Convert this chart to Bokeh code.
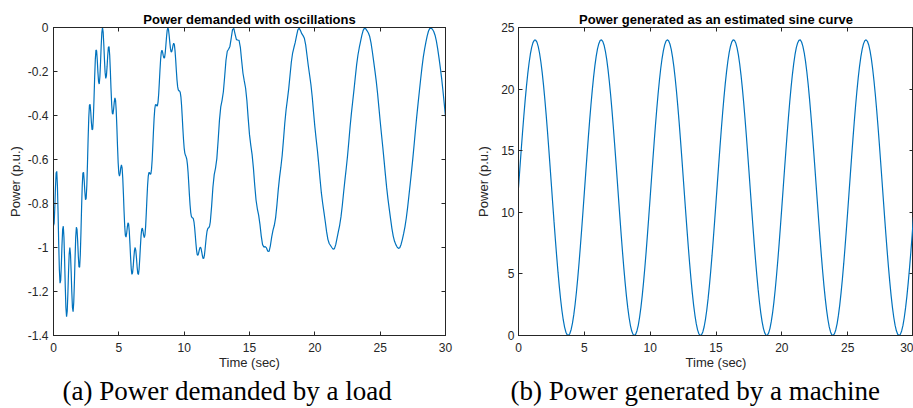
from bokeh.plotting import figure
from bokeh.models import Range1d, LinearAxis, FixedTicker, Title, CustomLabelingPolicy
from bokeh.layouts import row
from bokeh.embed import file_html
from bokeh.resources import INLINE

# ---------------- data ----------------
# sample times (s) of panel (a), 0 .. 12 s
time_fine = [
    0.0, 0.05, 0.1, 0.15, 0.2, 0.25, 0.3, 0.35, 0.4, 0.45,
    0.5, 0.55, 0.6, 0.65, 0.7, 0.75, 0.8, 0.85, 0.9, 0.95,
    1.0, 1.05, 1.1, 1.15, 1.2, 1.25, 1.3, 1.35, 1.4, 1.45,
    1.5, 1.55, 1.6, 1.65, 1.7, 1.75, 1.8, 1.85, 1.9, 1.95,
    2.0, 2.05, 2.1, 2.15, 2.2, 2.25, 2.3, 2.35, 2.4, 2.45,
    2.5, 2.55, 2.6, 2.65, 2.7, 2.75, 2.8, 2.85, 2.9, 2.95,
    3.0, 3.05, 3.1, 3.15, 3.2, 3.25, 3.3, 3.35, 3.4, 3.45,
    3.5, 3.55, 3.6, 3.65, 3.7, 3.75, 3.8, 3.85, 3.9, 3.95,
    4.0, 4.05, 4.1, 4.15, 4.2, 4.25, 4.3, 4.35, 4.4, 4.45,
    4.5, 4.55, 4.6, 4.65, 4.7, 4.75, 4.8, 4.85, 4.9, 4.95,
    5.0, 5.05, 5.1, 5.15, 5.2, 5.25, 5.3, 5.35, 5.4, 5.45,
    5.5, 5.55, 5.6, 5.65, 5.7, 5.75, 5.8, 5.85, 5.9, 5.95,
    6.0, 6.05, 6.1, 6.15, 6.2, 6.25, 6.3, 6.35, 6.4, 6.45,
    6.5, 6.55, 6.6, 6.65, 6.7, 6.75, 6.8, 6.85, 6.9, 6.95,
    7.0, 7.05, 7.1, 7.15, 7.2, 7.25, 7.3, 7.35, 7.4, 7.45,
    7.5, 7.55, 7.6, 7.65, 7.7, 7.75, 7.8, 7.85, 7.9, 7.95,
    8.0, 8.05, 8.1, 8.15, 8.2, 8.25, 8.3, 8.35, 8.4, 8.45,
    8.5, 8.55, 8.6, 8.65, 8.7, 8.75, 8.8, 8.85, 8.9, 8.95,
    9.0, 9.05, 9.1, 9.15, 9.2, 9.25, 9.3, 9.35, 9.4, 9.45,
    9.5, 9.55, 9.6, 9.65, 9.7, 9.75, 9.8, 9.85, 9.9, 9.95,
    10.0, 10.05, 10.1, 10.15, 10.2, 10.25, 10.3, 10.35, 10.4, 10.45,
    10.5, 10.55, 10.6, 10.65, 10.7, 10.75, 10.8, 10.85, 10.9, 10.95,
    11.0, 11.05, 11.1, 11.15, 11.2, 11.25, 11.3, 11.35, 11.4, 11.45,
    11.5, 11.55, 11.6, 11.65, 11.7, 11.75, 11.8, 11.85, 11.9, 11.95,
    12.0,
]

# sample times (s), 0 .. 30 s every 0.1 s
time_coarse = [
    0.0, 0.1, 0.2, 0.3, 0.4, 0.5, 0.6, 0.7, 0.8, 0.9,
    1.0, 1.1, 1.2, 1.3, 1.4, 1.5, 1.6, 1.7, 1.8, 1.9,
    2.0, 2.1, 2.2, 2.3, 2.4, 2.5, 2.6, 2.7, 2.8, 2.9,
    3.0, 3.1, 3.2, 3.3, 3.4, 3.5, 3.6, 3.7, 3.8, 3.9,
    4.0, 4.1, 4.2, 4.3, 4.4, 4.5, 4.6, 4.7, 4.8, 4.9,
    5.0, 5.1, 5.2, 5.3, 5.4, 5.5, 5.6, 5.7, 5.8, 5.9,
    6.0, 6.1, 6.2, 6.3, 6.4, 6.5, 6.6, 6.7, 6.8, 6.9,
    7.0, 7.1, 7.2, 7.3, 7.4, 7.5, 7.6, 7.7, 7.8, 7.9,
    8.0, 8.1, 8.2, 8.3, 8.4, 8.5, 8.6, 8.7, 8.8, 8.9,
    9.0, 9.1, 9.2, 9.3, 9.4, 9.5, 9.6, 9.7, 9.8, 9.9,
    10.0, 10.1, 10.2, 10.3, 10.4, 10.5, 10.6, 10.7, 10.8, 10.9,
    11.0, 11.1, 11.2, 11.3, 11.4, 11.5, 11.6, 11.7, 11.8, 11.9,
    12.0, 12.1, 12.2, 12.3, 12.4, 12.5, 12.6, 12.7, 12.8, 12.9,
    13.0, 13.1, 13.2, 13.3, 13.4, 13.5, 13.6, 13.7, 13.8, 13.9,
    14.0, 14.1, 14.2, 14.3, 14.4, 14.5, 14.6, 14.7, 14.8, 14.9,
    15.0, 15.1, 15.2, 15.3, 15.4, 15.5, 15.6, 15.7, 15.8, 15.9,
    16.0, 16.1, 16.2, 16.3, 16.4, 16.5, 16.6, 16.7, 16.8, 16.9,
    17.0, 17.1, 17.2, 17.3, 17.4, 17.5, 17.6, 17.7, 17.8, 17.9,
    18.0, 18.1, 18.2, 18.3, 18.4, 18.5, 18.6, 18.7, 18.8, 18.9,
    19.0, 19.1, 19.2, 19.3, 19.4, 19.5, 19.6, 19.7, 19.8, 19.9,
    20.0, 20.1, 20.2, 20.3, 20.4, 20.5, 20.6, 20.7, 20.8, 20.9,
    21.0, 21.1, 21.2, 21.3, 21.4, 21.5, 21.6, 21.7, 21.8, 21.9,
    22.0, 22.1, 22.2, 22.3, 22.4, 22.5, 22.6, 22.7, 22.8, 22.9,
    23.0, 23.1, 23.2, 23.3, 23.4, 23.5, 23.6, 23.7, 23.8, 23.9,
    24.0, 24.1, 24.2, 24.3, 24.4, 24.5, 24.6, 24.7, 24.8, 24.9,
    25.0, 25.1, 25.2, 25.3, 25.4, 25.5, 25.6, 25.7, 25.8, 25.9,
    26.0, 26.1, 26.2, 26.3, 26.4, 26.5, 26.6, 26.7, 26.8, 26.9,
    27.0, 27.1, 27.2, 27.3, 27.4, 27.5, 27.6, 27.7, 27.8, 27.9,
    28.0, 28.1, 28.2, 28.3, 28.4, 28.5, 28.6, 28.7, 28.8, 28.9,
    29.0, 29.1, 29.2, 29.3, 29.4, 29.5, 29.6, 29.7, 29.8, 29.9,
    30.0,
]

# (a) power demanded (p.u.), at time_fine then at time_coarse from 12.1 s
demand_fine = [
    -0.900, -0.890, -0.820, -0.728, -0.661, -0.654, -0.720, -0.842, -0.985, -1.102,
    -1.162, -1.149, -1.079, -0.988, -0.918, -0.903, -0.954, -1.057, -1.177, -1.274,
    -1.315, -1.289, -1.210, -1.111, -1.030, -1.000, -1.030, -1.108, -1.201, -1.272,
    -1.292, -1.249, -1.157, -1.047, -0.954, -0.908, -0.918, -0.971, -1.040, -1.088,
    -1.090, -1.034, -0.934, -0.817, -0.718, -0.662, -0.658, -0.696, -0.748, -0.783,
    -0.776, -0.718, -0.619, -0.505, -0.409, -0.354, -0.349, -0.383, -0.432, -0.465,
    -0.462, -0.411, -0.325, -0.226, -0.145, -0.102, -0.106, -0.148, -0.204, -0.247,
    -0.257, -0.224, -0.158, -0.083, -0.023, 0.000, -0.021, -0.077, -0.147, -0.204,
    -0.231, -0.220, -0.178, -0.127, -0.090, -0.087, -0.125, -0.195, -0.276, -0.347,
    -0.389, -0.394, -0.371, -0.339, -0.320, -0.331, -0.378, -0.454, -0.541, -0.616,
    -0.663, -0.676, -0.662, -0.637, -0.624, -0.638, -0.684, -0.755, -0.835, -0.903,
    -0.945, -0.953, -0.935, -0.907, -0.888, -0.893, -0.927, -0.983, -1.045, -1.097,
    -1.122, -1.116, -1.086, -1.045, -1.012, -1.000, -1.014, -1.048, -1.089, -1.118,
    -1.123, -1.099, -1.052, -0.996, -0.947, -0.917, -0.912, -0.926, -0.945, -0.955,
    -0.943, -0.905, -0.845, -0.778, -0.718, -0.677, -0.660, -0.660, -0.667, -0.666,
    -0.645, -0.602, -0.540, -0.472, -0.412, -0.370, -0.351, -0.350, -0.356, -0.356,
    -0.339, -0.302, -0.249, -0.192, -0.143, -0.112, -0.103, -0.112, -0.128, -0.139,
    -0.137, -0.116, -0.081, -0.043, -0.013, -0.001, -0.009, -0.035, -0.067, -0.095,
    -0.111, -0.110, -0.097, -0.080, -0.071, -0.078, -0.105, -0.146, -0.194, -0.238,
    -0.269, -0.284, -0.288, -0.288, -0.295, -0.315, -0.352, -0.403, -0.459, -0.509,
    -0.548, -0.571, -0.581, -0.588, -0.599, -0.622, -0.659, -0.708, -0.760, -0.806,
    -0.840, -0.858, -0.864, -0.865, -0.869, -0.883, -0.909, -0.944, -0.982, -1.013,
    -1.032, -1.036, -1.027, -1.013, -1.002, -0.999, -1.006, -1.022, -1.039, -1.050,
    -1.049, -1.035, -1.008, -0.977, -0.948, -0.926, -0.915, -0.911, -0.909, -0.901,
    -0.884,
]
demand_tail = [
    -0.813, -0.726, -0.669, -0.639, -0.596, -0.514, -0.422, -0.361, -0.331, -0.292,
    -0.223, -0.149, -0.108, -0.099, -0.086, -0.049, -0.010, -0.004, -0.031, -0.055,
    -0.057, -0.058, -0.090, -0.151, -0.208, -0.243, -0.275, -0.332, -0.413, -0.487,
    -0.536, -0.578, -0.639, -0.717, -0.784, -0.824, -0.853, -0.895, -0.948, -0.987,
    -0.998, -0.996, -1.002, -1.017, -1.018, -0.991, -0.952, -0.921, -0.899, -0.864,
    -0.806, -0.738, -0.681, -0.635, -0.582, -0.511, -0.435, -0.374, -0.328, -0.279,
    -0.218, -0.158, -0.116, -0.091, -0.068, -0.038, -0.011, -0.003, -0.014, -0.028,
    -0.037, -0.049, -0.079, -0.126, -0.174, -0.216, -0.259, -0.315, -0.384, -0.450,
    -0.507, -0.560, -0.622, -0.690, -0.752, -0.799, -0.840, -0.883, -0.928, -0.963,
    -0.982, -0.991, -1.000, -1.008, -1.005, -0.987, -0.957, -0.928, -0.899, -0.861,
    -0.810, -0.751, -0.695, -0.642, -0.585, -0.519, -0.450, -0.389, -0.335, -0.281,
    -0.224, -0.169, -0.125, -0.092, -0.063, -0.035, -0.013, -0.003, -0.006, -0.015,
    -0.025, -0.041, -0.070, -0.109, -0.153, -0.197, -0.244, -0.299, -0.362, -0.425,
    -0.485, -0.543, -0.605, -0.669, -0.729, -0.781, -0.827, -0.871, -0.914, -0.948,
    -0.972, -0.987, -0.998, -1.004, -1.001, -0.986, -0.963, -0.936, -0.905, -0.866,
    -0.819, -0.765, -0.710, -0.654, -0.595, -0.532, -0.466, -0.404, -0.346, -0.290,
    -0.234, -0.181, -0.135, -0.098, -0.066, -0.038, -0.016, -0.004, -0.003, -0.008,
    -0.018, -0.035, -0.061, -0.096, -0.137, -0.181, -0.229, -0.284, -0.344, -0.405,
]

# (b) power generated (p.u.), at time_coarse
generated = [
    12.00, 13.50, 14.97, 16.40, 17.75, 19.02, 20.18, 21.21, 22.10, 22.83,
    23.39, 23.77, 23.97, 23.98, 23.81, 23.45, 22.91, 22.20, 21.34, 20.32,
    19.18, 17.93, 16.58, 15.16, 13.69, 12.20, 10.70, 9.22, 7.79, 6.42,
    5.14, 3.97, 2.92, 2.01, 1.26, 0.68, 0.27, 0.05, 0.01, 0.16,
    0.49, 1.01, 1.69, 2.54, 3.53, 4.66, 5.90, 7.24, 8.65, 10.11,
    11.60, 13.10, 14.58, 16.02, 17.40, 18.69, 19.88, 20.95, 21.88, 22.65,
    23.26, 23.69, 23.94, 24.00, 23.87, 23.56, 23.07, 22.41, 21.58, 20.60,
    19.50, 18.27, 16.95, 15.54, 14.09, 12.60, 11.10, 9.61, 8.16, 6.78,
    5.47, 4.27, 3.18, 2.24, 1.44, 0.81, 0.36, 0.09, 0.00, 0.10,
    0.39, 0.85, 1.50, 2.30, 3.26, 4.35, 5.56, 6.87, 8.27, 9.72,
    11.20, 12.70, 14.19, 15.65, 17.04, 18.36, 19.58, 20.68, 21.65, 22.46,
    23.11, 23.59, 23.89, 24.00, 23.92, 23.66, 23.22, 22.60, 21.82, 20.88,
    19.80, 18.60, 17.31, 15.92, 14.48, 12.99, 11.49, 10.00, 8.55, 7.14,
    5.81, 4.58, 3.46, 2.47, 1.64, 0.96, 0.46, 0.14, 0.00, 0.06,
    0.29, 0.71, 1.31, 2.07, 2.99, 4.05, 5.23, 6.52, 7.89, 9.33,
    10.81, 12.31, 13.80, 15.27, 16.68, 18.02, 19.27, 20.40, 21.40, 22.26,
    22.96, 23.48, 23.83, 23.99, 23.96, 23.75, 23.35, 22.78, 22.04, 21.14,
    20.10, 18.93, 17.66, 16.29, 14.86, 13.39, 11.89, 10.40, 8.93, 7.50,
    6.15, 4.89, 3.74, 2.72, 1.84, 1.13, 0.58, 0.21, 0.02, 0.02,
    0.21, 0.58, 1.14, 1.85, 2.73, 3.75, 4.91, 6.17, 7.52, 8.95,
    10.42, 11.91, 13.41, 14.88, 16.31, 17.68, 18.95, 20.12, 21.16, 22.05,
    22.79, 23.36, 23.75, 23.96, 23.99, 23.82, 23.47, 22.95, 22.25, 21.39,
    20.39, 19.25, 18.00, 16.66, 15.24, 13.78, 12.28, 10.79, 9.31, 7.87,
    6.50, 5.21, 4.03, 2.97, 2.06, 1.30, 0.70, 0.29, 0.05, 0.01,
    0.15, 0.47, 0.97, 1.65, 2.49, 3.48, 4.59, 5.83, 7.16, 8.57,
    10.03, 11.52, 13.02, 14.50, 15.94, 17.33, 18.63, 19.82, 20.90, 21.83,
    22.61, 23.23, 23.67, 23.93, 24.00, 23.88, 23.58, 23.10, 22.45, 21.63,
    20.66, 19.56, 18.34, 17.02, 15.62, 14.17, 12.68, 11.18, 9.69, 8.24,
    6.85, 5.54, 4.33, 3.24, 2.28, 1.48, 0.84, 0.38, 0.10, 0.00,
    0.09, 0.37, 0.82, 1.46, 2.26, 3.20, 4.29, 5.50, 6.80, 8.19,
    9.64,
]

time_a = time_fine + time_coarse[121:]
demand = demand_fine + demand_tail

x_ticks = [0, 5, 10, 15, 20, 25, 30]
y_ticks_a = [-1.4, -1.2, -1, -0.8, -0.6, -0.4, -0.2, 0]
y_tick_labels_a = ["-1.4", "-1.2", "-1", "-0.8", "-0.6", "-0.4", "-0.2", "0"]
y_ticks_b = [0, 5, 10, 15, 20, 25]

title_a = "Power demanded with oscillations"
title_b = "Power generated as an estimated sine curve"
caption_a = "(a) Power demanded by a load"
caption_b = "(b) Power generated by a machine"
x_label = "Time (sec)"
y_label = "Power (p.u.)"

# ---------------- styling ----------------
AX = "#262626"
LINE = "#0072BD"
SANS = "Liberation Sans"
SERIF = "Liberation Serif"


def style_axis(ax, ticks, labels=True, overrides=None):
    ax.ticker = FixedTicker(ticks=ticks)
    ax.axis_line_color = AX
    ax.axis_line_width = 1
    ax.major_tick_line_color = AX
    ax.major_tick_in = 4
    ax.major_tick_out = 0
    ax.minor_tick_line_color = None
    ax.major_label_text_color = AX
    ax.major_label_text_font = SANS
    if labels:
        ax.major_label_text_font_size = "12px"
    else:
        # mirrored axis of the box: ticks only, no labels drawn
        ax.major_label_text_font_size = "0px"
        ax.major_label_standoff = 0
        ax.axis_label_standoff = 0
        ax.major_label_policy = CustomLabelingPolicy(code="return []")
    if overrides:
        ax.major_label_overrides = overrides
    ax.axis_label_text_font = SANS
    ax.axis_label_text_font_size = "13px"
    ax.axis_label_text_font_style = "normal"
    ax.axis_label_text_color = AX


def panel(x, y, yr, yticks, title, caption, width, mb_left, mb_right,
          ylab_standoff, ylab_tick_standoff, cap_offset, overrides=None):
    p = figure(width=width, height=408, x_range=Range1d(0, 30), y_range=Range1d(*yr),
               output_backend="svg", toolbar_location=None,
               min_border_left=mb_left, min_border_right=mb_right,
               min_border_top=27, min_border_bottom=73,
               background_fill_color="white", border_fill_color="white")
    p.grid.visible = False
    p.outline_line_color = AX
    p.outline_line_width = 1

    p.title.text = title
    p.title.align = "center"
    p.title.text_font = SANS
    p.title.text_font_size = "13px"
    p.title.text_font_style = "bold"
    p.title.text_color = "black"
    p.title.standoff = 1

    style_axis(p.xaxis[0], x_ticks)
    p.xaxis[0].axis_label = x_label
    p.xaxis[0].major_label_standoff = 7
    p.xaxis[0].axis_label_standoff = 0

    style_axis(p.yaxis[0], yticks, overrides=overrides)
    p.yaxis[0].axis_label = y_label
    p.yaxis[0].major_label_standoff = ylab_tick_standoff
    p.yaxis[0].axis_label_standoff = ylab_standoff

    top = LinearAxis()
    style_axis(top, x_ticks, labels=False)
    p.add_layout(top, "above")
    right = LinearAxis()
    style_axis(right, yticks, labels=False)
    p.add_layout(right, "right")

    p.line(x, y, line_color=LINE, line_width=1.2)

    cap = Title(text=caption, align="left", offset=cap_offset,
                text_font=SERIF, text_font_size="27px", text_font_style="normal",
                text_color="black", standoff=3)
    p.add_layout(cap, "below")
    return p


overrides_a = dict(zip(y_ticks_a, y_tick_labels_a))
pa = panel(time_a, demand, (-1.4, 0), y_ticks_a, title_a, caption_a,
           462, 53, 17, 2, 5, 9, overrides_a)
pb = panel(time_coarse, generated, (0, 25), y_ticks_b, title_b, caption_b,
           451, 56, 0, 7, 4, -8)

layout = row(pa, pb)
open("out.html", "w").write(file_html(layout, INLINE))
